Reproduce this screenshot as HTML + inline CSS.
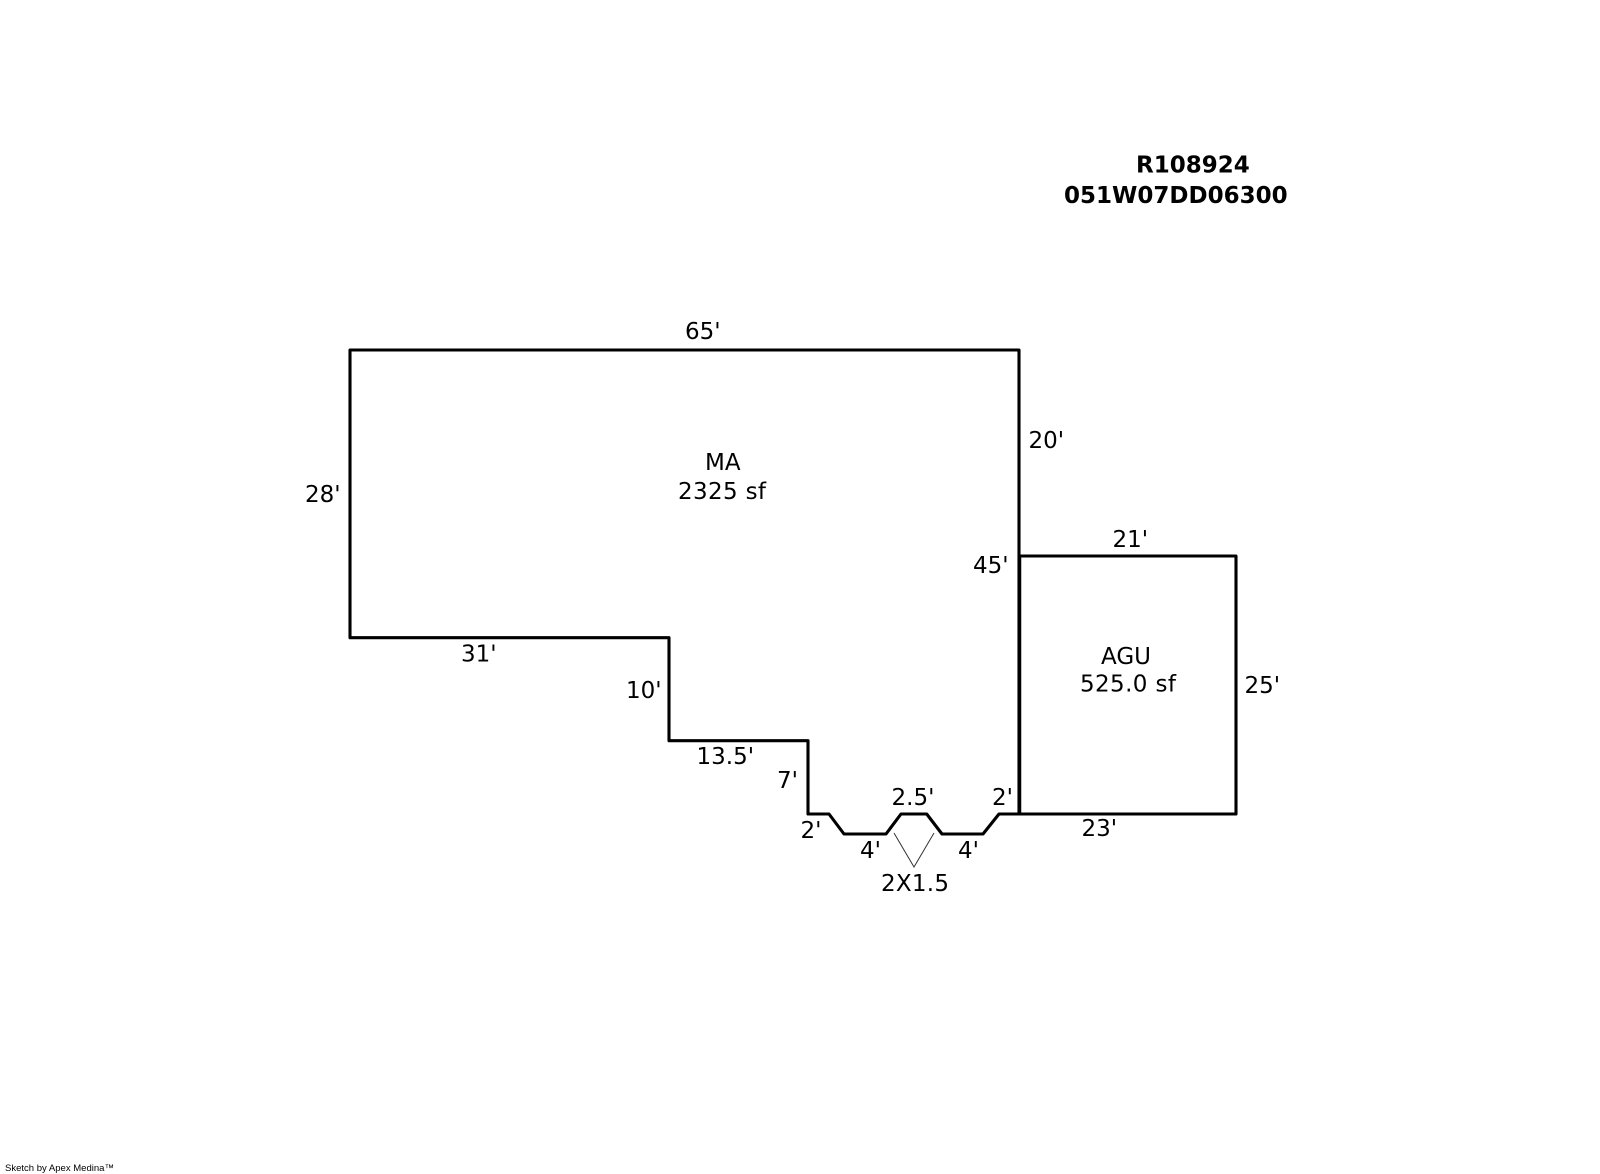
<!DOCTYPE html>
<html>
<head>
<meta charset="utf-8">
<style>
html,body{margin:0;padding:0;background:#fff;width:1600px;height:1174px;overflow:hidden}
svg{display:block}
text{font-family:"DejaVu Sans",sans-serif;font-size:23px;fill:#000}
.b{font-weight:bold}
</style>
</head>
<body>
<svg width="1600" height="1174" viewBox="0 0 1600 1174" xmlns="http://www.w3.org/2000/svg">
<rect width="1600" height="1174" fill="#fff"/>
<path d="M350 350H1019V814H999L983 834H942L926.7 814H901L886 834H844L829 814H808V740.7H669V637.7H350Z" fill="none" stroke="#000" stroke-width="3.1" stroke-linejoin="round"/>
<path d="M1019.7 556H1236V814H1019.7Z" fill="none" stroke="#000" stroke-width="3.1" stroke-linejoin="round"/>
<path d="M894 833L914 867L934 833" fill="none" stroke="#333" stroke-width="1"/>
<text class="b" x="1136" y="172.5">R108924</text>
<text class="b" x="1064" y="203">051W07DD06300</text>
<text x="685" y="339">65'</text>
<text x="705" y="470">MA</text>
<text x="678" y="499" textLength="88" lengthAdjust="spacing">2325 sf</text>
<text x="1028.5" y="448">20'</text>
<text x="305" y="502">28'</text>
<text x="461" y="661.5">31'</text>
<text x="626" y="698">10'</text>
<text x="696.5" y="764">13.5'</text>
<text x="777" y="788">7'</text>
<text x="800.5" y="838">2'</text>
<text x="860" y="858">4'</text>
<text x="891.5" y="805">2.5'</text>
<text x="992" y="805">2'</text>
<text x="958" y="858">4'</text>
<text x="881" y="891" textLength="68" lengthAdjust="spacing">2X1.5</text>
<text x="1112.5" y="547">21'</text>
<text x="973" y="573">45'</text>
<text x="1101" y="664">AGU</text>
<text x="1080" y="691.5" textLength="96" lengthAdjust="spacing">525.0 sf</text>
<text x="1244.5" y="693">25'</text>
<text x="1081.5" y="836">23'</text>
<text x="5" y="1171" textLength="109" lengthAdjust="spacingAndGlyphs" style="font-family:'Liberation Sans',sans-serif;font-size:9.5px">Sketch by Apex Medina™</text>
</svg>
</body>
</html>
